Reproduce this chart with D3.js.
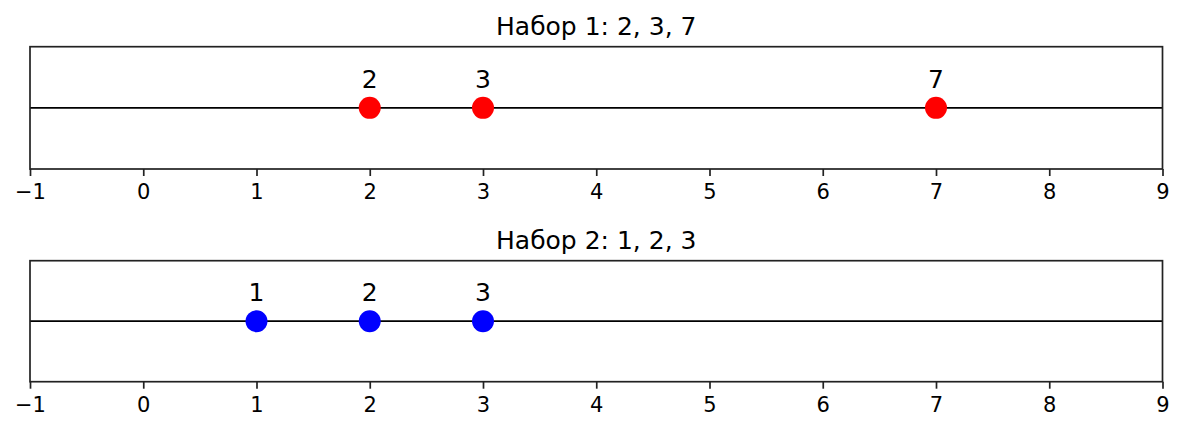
<!DOCTYPE html>
<html>
<head>
<meta charset="utf-8">
<script src="https://cdn.jsdelivr.net/npm/d3@7"></script>
<style>
  body { margin: 0; background: #fff; }
  text { font-family: "DejaVu Sans", sans-serif; }
</style>
</head>
<body>
<div id="chart"></div>
<script>
const titles = ["Набор 1: 2, 3, 7", "Набор 2: 1, 2, 3"];
const set1 = [2, 3, 7];
const set2 = [1, 2, 3];
const colors = ["#ff0000", "#0000ff"];
const ticks = [-1, 0, 1, 2, 3, 4, 5, 6, 7, 8, 9];

const width = 1185, height = 432;
const left = 30, right = 1162.5;
const panels = [
  { top: 46.7, bottom: 169, values: set1, title: titles[0], color: colors[0] },
  { top: 260.7, bottom: 381.7, values: set2, title: titles[1], color: colors[1] }
];

const svg = d3.select("#chart")
  .append("svg")
  .attr("width", width)
  .attr("height", height);

const xScale = d3.scaleLinear().domain([-1, 9]).range([left, right]);

panels.forEach(p => {
  const yScale = d3.scaleLinear().domain([-1, 1]).range([p.bottom, p.top]);
  const g = svg.append("g");

  // number line
  g.append("line")
    .attr("x1", xScale(-1)).attr("x2", xScale(9))
    .attr("y1", yScale(0)).attr("y2", yScale(0))
    .attr("stroke", "#000").attr("stroke-width", 1.7);

  g.selectAll("circle")
    .data(p.values)
    .enter()
    .append("circle")
    .attr("cx", d => xScale(d))
    .attr("cy", yScale(0))
    .attr("r", 11)
    .attr("fill", p.color);

  g.selectAll("text.lbl")
    .data(p.values)
    .enter()
    .append("text")
    .attr("class", "lbl")
    .attr("x", d => xScale(d))
    .attr("y", yScale(0) - 20)
    .attr("text-anchor", "middle")
    .style("font-size", "25px")
    .text(d => d);

  // frame
  g.append("rect")
    .attr("x", left).attr("y", p.top)
    .attr("width", right - left).attr("height", p.bottom - p.top)
    .attr("fill", "none").attr("stroke", "#222").attr("stroke-width", 1.7);

  const axis = g.append("g")
    .attr("transform", `translate(0, ${p.bottom})`)
    .call(d3.axisBottom(xScale).tickValues(ticks).tickSize(7).tickPadding(8)
      .tickFormat(d => d < 0 ? "\u2212" + Math.abs(d) : d));
  axis.select(".domain").remove();
  axis.selectAll("line").attr("stroke", "#222").attr("stroke-width", 1.7);
  axis.selectAll("text").attr("fill", "#000")
    .style("font-size", "21px")
    .style("font-family", "DejaVu Sans, sans-serif");

  g.append("text")
    .attr("x", (left + right) / 2)
    .attr("y", p.top - 12)
    .attr("text-anchor", "middle")
    .style("font-size", "25px")
    .text(p.title);
});
</script>
</body>
</html>
